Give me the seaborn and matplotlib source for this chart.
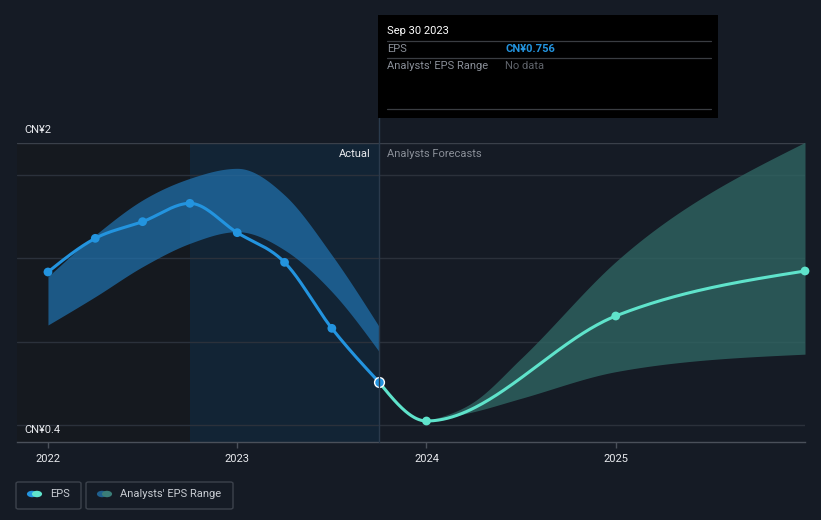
import numpy as np
import pandas as pd
import matplotlib
matplotlib.use("Agg")
import matplotlib.pyplot as plt
import seaborn as sns
from matplotlib.patches import Rectangle, Circle, FancyBboxPatch
from matplotlib.lines import Line2D

# ---------------- data ----------------
actual_x = [2022.0, 2022.25, 2022.5, 2022.75, 2023.0, 2023.25, 2023.5, 2023.75]
actual_eps = [1.418, 1.620, 1.720, 1.830, 1.654, 1.476, 1.080, 0.756]

past_range_x = [2022.0, 2022.25, 2022.5, 2022.75, 2023.0, 2023.25, 2023.5, 2023.75]
past_range_hi = [1.39, 1.64, 1.85, 1.98, 2.04, 1.88, 1.52, 1.09]
past_range_lo = [1.10, 1.27, 1.45, 1.59, 1.66, 1.55, 1.30, 0.94]

fc_x = [2023.75, 2024.0, 2025.0, 2026.0]
fc_eps = [0.756, 0.524, 1.154, 1.424]

fc_range_x = [2024.0, 2024.25, 2024.5, 2025.0, 2026.0]
fc_range_hi = [0.524, 0.64, 0.90, 1.48, 2.196]
fc_range_lo = [0.524, 0.58, 0.66, 0.82, 0.925]

year_ticks = [2022, 2023, 2024, 2025]
year_labels = ["2022", "2023", "2024", "2025"]
grid_vals = [0.5, 1.0, 1.5, 2.0, 2.192]
y_labels = ["CN¥2", "CN¥0.4"]

# ---------------- helpers ----------------
def monotone(xs, ys, n=240):
    xs = np.asarray(xs, float); ys = np.asarray(ys, float)
    h = np.diff(xs); d = np.diff(ys) / h
    m = np.zeros_like(ys)
    for i in range(1, len(xs) - 1):
        if d[i - 1] * d[i] <= 0:
            m[i] = 0
        else:
            p = (h[i - 1] * d[i] + h[i] * d[i - 1]) / (h[i - 1] + h[i])
            m[i] = np.sign(d[i]) * min(abs(p), 2 * min(abs(d[i - 1]), abs(d[i])))
    if len(xs) > 2:
        m[0] = (3 * d[0] - m[1]) / 2
        m[-1] = (3 * d[-1] - m[-2]) / 2
    else:
        m[0] = m[-1] = d[0]
    xo, yo = [], []
    for i in range(len(xs) - 1):
        t = np.linspace(0, 1, n // (len(xs) - 1) + 2)
        hh = h[i]
        h00 = 2 * t**3 - 3 * t**2 + 1
        h10 = t**3 - 2 * t**2 + t
        h01 = -2 * t**3 + 3 * t**2
        h11 = t**3 - t**2
        xo.append(xs[i] + t * hh)
        yo.append(h00 * ys[i] + h10 * hh * m[i] + h01 * ys[i + 1] + h11 * hh * m[i + 1])
    return np.concatenate(xo), np.concatenate(yo)

BG = "#151b25"
BLUE = "#2394df"
TEAL = "#5fe3cb"
FS = 8

sns.set_theme(style="dark")
plt.rcParams["font.family"] = ["Roboto", "DejaVu Sans"]

fig = plt.figure(figsize=(8.21, 5.20), dpi=100, facecolor=BG)
W, H = 821, 520
ax = fig.add_axes([17 / W, (H - 442) / H, (805 - 17) / W, (442 - 143) / H])
ax.set_facecolor(BG)
xmin = 2022 - 31 / 189.5
xmax = 2026.0
ax.set_xlim(xmin, xmax)
ax.set_ylim(0.398, 2.192)

# region shading
ax.axvspan(xmin, 2022.75, color="#15191f", zorder=0, lw=0)
ax.axvspan(2022.75, 2023.75, color="#122435", zorder=0, lw=0)

# gridlines
for i, g in enumerate(grid_vals):
    ax.axhline(g, color="#2b313b" if i < 4 else "#3a404a", lw=1, zorder=1)

# bands
px, ph = monotone(past_range_x, past_range_hi)
_, pl = monotone(past_range_x, past_range_lo)
ax.fill_between(px, pl, ph, color="#2071ad", alpha=0.72, lw=0, zorder=2)
fx, fh = monotone(fc_range_x, fc_range_hi)
_, fl = monotone(fc_range_x, fc_range_lo)
ax.fill_between(fx, fl, fh, color="#2f6663", alpha=0.78, lw=0, zorder=2)

# lines
lx, ly = monotone(actual_x, actual_eps)
sns.lineplot(x=lx, y=ly, ax=ax, color=BLUE, lw=2.2, zorder=4, sort=False, estimator=None)
tx, ty = monotone(fc_x, fc_eps)
sns.lineplot(x=tx, y=ty, ax=ax, color=TEAL, lw=2.2, zorder=4, sort=False, estimator=None)

sns.scatterplot(x=actual_x[:-1], y=actual_eps[:-1], ax=ax, color=BLUE, s=40, edgecolor="none", zorder=5)
sns.scatterplot(x=actual_x[-1:], y=actual_eps[-1:], ax=ax, color=BLUE, s=50, edgecolor="white", linewidth=1.0, zorder=6)
sns.scatterplot(x=fc_x[1:], y=fc_eps[1:], ax=ax, color=TEAL, s=40, edgecolor="none", zorder=5, clip_on=False)

# axes styling
for s in ["top", "right", "left"]:
    ax.spines[s].set_visible(False)
ax.spines["bottom"].set_color("#4a505a")
ax.spines["bottom"].set_linewidth(1)
ax.set_yticks([])
ax.set_xticks(year_ticks)
ax.set_xticklabels(year_labels, color="#e8eaee", fontsize=FS)
ax.tick_params(axis="x", length=4, color="#4a505a", width=1, pad=5, bottom=True)
ax.grid(False)

# y labels
fig.text(24 / W, 1 - 130 / H, y_labels[0], color="#e8eaee", fontsize=FS, va="center", ha="left")
fig.text(24 / W, 1 - 430 / H, y_labels[1], color="#e8eaee", fontsize=FS, va="center", ha="left")

# Actual / forecasts
fig.text(371 / W, 1 - 154 / H, "Actual", color="#e8eaee", fontsize=FS, va="center", ha="right")
fig.text(387 / W, 1 - 154 / H, "Analysts Forecasts", color="#8a8f98", fontsize=FS, va="center", ha="left")

# vertical marker line
fig.add_artist(Line2D([379 / W, 379 / W], [1 - 442 / H, 1 - 15 / H], color="#2a3a4c", lw=1, zorder=3))

# tooltip
fig.add_artist(Rectangle((378 / W, 1 - 118 / H), 340 / W, 103 / H, facecolor="#000000", edgecolor="none", zorder=10))
fig.text(387 / W, 1 - 31 / H, "Sep 30 2023", color="#ffffff", fontsize=FS, va="center", ha="left", zorder=11)
for yy in [41, 58, 109]:
    fig.add_artist(Line2D([387 / W, 711 / W], [1 - yy / H, 1 - yy / H], color="#3a3d42", lw=0.9, zorder=11))
fig.text(387 / W, 1 - 49 / H, "EPS", color="#8a8f98", fontsize=FS, va="center", ha="left", zorder=11)
fig.text(505 / W, 1 - 49 / H, "CN¥0.756", color="#2394df", fontsize=FS, fontweight="bold", va="center", ha="left", zorder=11)
fig.text(387 / W, 1 - 66 / H, "Analysts' EPS Range", color="#8a8f98", fontsize=FS, va="center", ha="left", zorder=11)
fig.text(505 / W, 1 - 66 / H, "No data", color="#5f636a", fontsize=FS, va="center", ha="left", zorder=11)

# legend
def legbox(x0, x1, c1, c2, label):
    fig.add_artist(FancyBboxPatch((x0 / W, 1 - 509 / H), (x1 - x0) / W, 27 / H,
                                  boxstyle="round,pad=0,rounding_size=0.003",
                                  facecolor="none", edgecolor="#3c424c", lw=1))
    fig.add_artist(Circle(((x0 + 16) / W, 1 - 494 / H), 0.0062, transform=fig.transFigure,
                          facecolor=c1, edgecolor="none"))
    fig.add_artist(Circle(((x0 + 21) / W, 1 - 494 / H), 0.0062, transform=fig.transFigure,
                          facecolor=c2, edgecolor="none"))
    fig.text((x0 + 34) / W, 1 - 494 / H, label, color="#c8ccd2", fontsize=FS, va="center", ha="left")

legbox(16, 81, BLUE, TEAL, "EPS")
legbox(86, 233, "#1f5f8e", "#3a7d78", "Analysts' EPS Range")

fig.savefig("out.png", dpi=100, facecolor=BG)
